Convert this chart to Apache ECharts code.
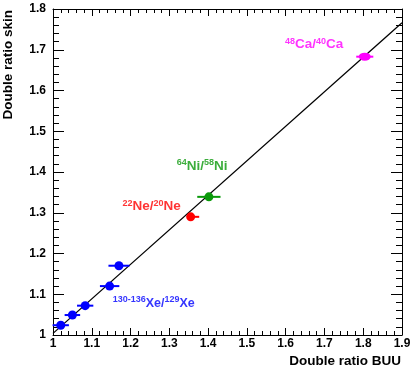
<!DOCTYPE html>
<html>
<head>
<meta charset="utf-8">
<script src="https://cdn.jsdelivr.net/npm/echarts@6/dist/echarts.min.js"></script>
<style>
  html, body { margin: 0; padding: 0; background: #fff; }
  #container01 { width: 415px; height: 371px; }
</style>
</head>
<body>
<div id="container01"></div>
<script>
// 数据
const xTicks = [1, 1.1, 1.2, 1.3, 1.4, 1.5, 1.6, 1.7, 1.8, 1.9];
const yTicks = [1, 1.1, 1.2, 1.3, 1.4, 1.5, 1.6, 1.7, 1.8];

const xeBuu = [1.020, 1.050, 1.083, 1.146, 1.170];
const xeSkin = [1.024, 1.049, 1.072, 1.120, 1.170];
const xeErr = [0.021, 0.020, 0.021, 0.025, 0.027];

const neBuu = [1.355];
const neSkin = [1.290];
const neErrLo = [0.004];
const neErrHi = [0.022];

const niBuu = [1.402];
const niSkin = [1.339];
const niErr = [0.030];

const caBuu = [1.804];
const caSkin = [1.683];
const caErr = [0.022];

const fitLine = [[1.0, 1.004], [1.9, 1.766]];

const labelText = [
    '{s|130-136}{m|Xe/}{s|129}{m|Xe}',
    '{s|22}{m|Ne/}{s|20}{m|Ne}',
    '{s|64}{m|Ni/}{s|58}{m|Ni}',
    '{s|48}{m|Ca/}{s|40}{m|Ca}'
];
const labelAt = [[1.154, 1.080], [1.179, 1.316], [1.319, 1.416], [1.598, 1.714]];

const FONT = 'Liberation Sans';
const BLUE = '#0000ff', RED = '#ff0000', GREEN = '#0a990a', MAGENTA = '#ff00ff';
const labelColors = [BLUE, RED, GREEN, MAGENTA];
const labelSizes = [12.5, 13.5, 13.5, 13.5];

const initChart = () => {
    const dom = document.getElementById('container01');
    const myChart = echarts.init(dom, null, { renderer: 'canvas' });

    // 误差棒
    const errBars = (xs, ys, lo, hi, color) => ({
        type: 'custom',
        xAxisIndex: 0,
        yAxisIndex: 0,
        z: 3,
        silent: true,
        data: xs.map((x, i) => [x - lo[i], x + hi[i], ys[i]]),
        renderItem: (params, api) => {
            const a = api.coord([api.value(0), api.value(2)]);
            const b = api.coord([api.value(1), api.value(2)]);
            return {
                type: 'line',
                shape: { x1: a[0], y1: a[1], x2: b[0], y2: b[1] },
                style: { stroke: color, lineWidth: 2 }
            };
        }
    });
    const dots = (xs, ys, color, size) => ({
        type: 'scatter',
        xAxisIndex: 0,
        yAxisIndex: 0,
        z: 4,
        symbol: 'circle',
        symbolSize: size,
        itemStyle: { color: color, opacity: 1 },
        data: xs.map((x, i) => [x, ys[i]])
    });

    const xAxisBase = (pos, showLabel) => ({
        type: 'value',
        position: pos,
        min: 1,
        max: 1.9,
        interval: 0.1,
        axisLine: { onZero: false, lineStyle: { color: '#000', width: 1 } },
        axisTick: { inside: true, length: 7, lineStyle: { color: '#000' } },
        minorTick: { show: true, splitNumber: 5, length: 4, lineStyle: { color: '#000' } },
        splitLine: { show: false },
        axisLabel: {
            show: showLabel,
            margin: 3,
            color: '#000',
            fontFamily: FONT,
            fontWeight: 'bold',
            fontSize: 12,
            formatter: (v) => String(+v.toFixed(1))
        }
    });
    const yAxisBase = (pos, showLabel) => ({
        type: 'value',
        position: pos,
        min: 1,
        max: 1.8,
        interval: 0.1,
        axisLine: { onZero: false, lineStyle: { color: '#000', width: 1 } },
        axisTick: { inside: true, length: 11, lineStyle: { color: '#000' } },
        minorTick: { show: true, splitNumber: 5, length: 6, lineStyle: { color: '#000' } },
        splitLine: { show: false },
        axisLabel: {
            show: showLabel,
            margin: 7,
            color: '#000',
            fontFamily: FONT,
            fontWeight: 'bold',
            fontSize: 12,
            formatter: (v) => String(+v.toFixed(1))
        }
    });

    const option = {
        animation: false,
        backgroundColor: '#fff',
        grid: { left: 53, right: 13, top: 9, bottom: 36, containLabel: false },
        xAxis: [xAxisBase('bottom', true), xAxisBase('top', false)],
        yAxis: [yAxisBase('left', true), yAxisBase('right', false)],
        graphic: [
            {
                type: 'text',
                right: 14,
                top: 354,
                style: {
                    text: 'Double ratio BUU',
                    fill: '#000',
                    font: 'bold 13.5px ' + FONT
                }
            },
            {
                type: 'text',
                left: 1,
                top: 10,
                rotation: Math.PI / 2,
                originX: 0,
                originY: 0,
                style: {
                    text: 'Double ratio skin',
                    fill: '#000',
                    font: 'bold 13.5px ' + FONT,
                    align: 'right',
                    verticalAlign: 'top'
                }
            }
        ],
        series: [
            {
                type: 'line',
                xAxisIndex: 0,
                yAxisIndex: 0,
                z: 2,
                symbol: 'none',
                lineStyle: { color: '#000', width: 1.3 },
                data: fitLine
            },
            errBars(xeBuu, xeSkin, xeErr, xeErr, BLUE),
            errBars(neBuu, neSkin, neErrLo, neErrHi, RED),
            errBars(niBuu, niSkin, niErr, niErr, GREEN),
            errBars(caBuu, caSkin, caErr, caErr, MAGENTA),
            dots(xeBuu, xeSkin, BLUE, 9),
            dots(neBuu, neSkin, RED, 9),
            dots(niBuu, niSkin, GREEN, 9),
            dots(caBuu, caSkin, MAGENTA, [12, 8]),
            {
                type: 'scatter',
                xAxisIndex: 0,
                yAxisIndex: 0,
                z: 5,
                symbolSize: 0,
                silent: true,
                data: labelAt.map((p, i) => ({
                    value: p,
                    label: {
                        show: true,
                        position: 'right',
                        distance: 0,
                        fontWeight: 'bold',
                        fontFamily: FONT,
                        color: labelColors[i],
                        formatter: labelText[i],
                        rich: {
                            m: {
                                color: labelColors[i],
                                fontFamily: FONT,
                                fontWeight: 'bold',
                                fontSize: labelSizes[i],
                                lineHeight: 15,
                                verticalAlign: 'bottom'
                            },
                            s: {
                                color: labelColors[i],
                                fontFamily: FONT,
                                fontWeight: 'bold',
                                fontSize: 9,
                                lineHeight: 9,
                                verticalAlign: 'top'
                            }
                        }
                    }
                }))
            }
        ]
    };

    myChart.setOption(option);
    window.addEventListener('resize', myChart.resize);
};

initChart();
</script>
</body>
</html>
